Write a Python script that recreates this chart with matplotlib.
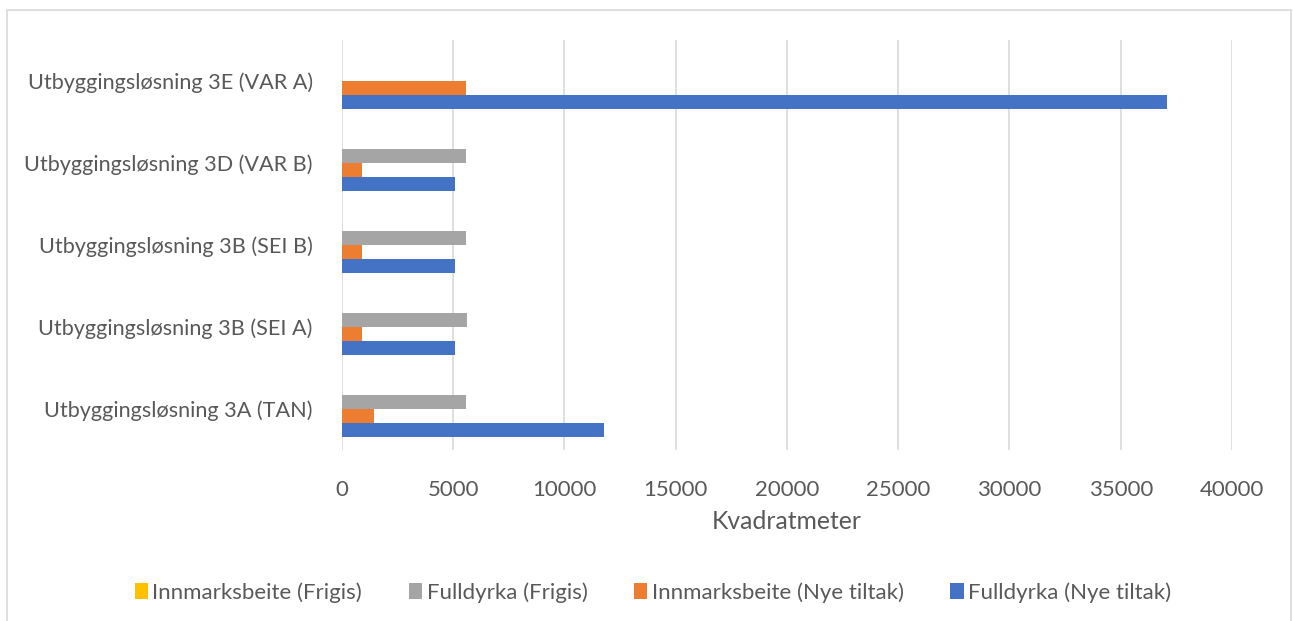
import matplotlib
matplotlib.use("Agg")
import matplotlib.pyplot as plt
import numpy as np
from matplotlib.patches import Rectangle

# data
categories = ["Utbyggingsløsning 3A (TAN)",
              "Utbyggingsløsning 3B (SEI A)",
              "Utbyggingsløsning 3B (SEI B)",
              "Utbyggingsløsning 3D (VAR B)",
              "Utbyggingsløsning 3E (VAR A)"]
fulldyrka_nye = [11790, 5060, 5060, 5060, 37100]
innmark_nye = [1420, 880, 880, 880, 5560]
fulldyrka_frigis = [5570, 5600, 5570, 5570, 0]
innmark_frigis = [0, 0, 0, 0, 0]

series = [
    ("Fulldyrka (Nye tiltak)", fulldyrka_nye, "#4472C4"),
    ("Innmarksbeite (Nye tiltak)", innmark_nye, "#ED7D31"),
    ("Fulldyrka (Frigis)", fulldyrka_frigis, "#A5A5A5"),
    ("Innmarksbeite (Frigis)", innmark_frigis, "#FFC000"),
]

plt.rcParams['font.family'] = ['Lato', 'DejaVu Sans']
text_col = "#595959"
fs = 16

fig = plt.figure(figsize=(12.93, 6.21), dpi=100)
ax = fig.add_axes([0.2645, 0.2757, 0.6883, 0.6605])

y = np.arange(len(categories))
h = 0.17
handles = []
for i, (name, vals, col) in enumerate(series):
    b = ax.barh(y + (i - 1.5) * h, vals, height=h, color=col, label=name)
    handles.append(b)

ax.set_xlim(0, 40000)
ax.set_ylim(-0.5, len(categories) - 0.5)
ax.set_xticks(np.arange(0, 40001, 5000))
ax.set_yticks(y)
ax.set_yticklabels(categories, fontsize=15.6)
ax.grid(axis="x", color="#D9D9D9", linewidth=1.2)
ax.set_axisbelow(True)
for s in ax.spines.values():
    s.set_visible(False)
ax.tick_params(axis="both", length=0, colors=text_col)
ax.tick_params(axis="x", pad=22, labelsize=fs)
ax.tick_params(axis="y", pad=21)
ax.set_xlabel("Kvadratmeter", fontsize=17.8, color=text_col, labelpad=7)

# legend in reverse order, as in the reference
leg = fig.legend(handles[::-1], [s[0] for s in series[::-1]],
                 loc="center", bbox_to_anchor=(0.505, 0.046), ncol=4,
                 frameon=False, fontsize=fs, handlelength=0.6,
                 handleheight=0.7, handletextpad=0.2, columnspacing=2.1)
for t in leg.get_texts():
    t.set_color(text_col)

# chart border
fig.patches.append(Rectangle((7 / 1293, -0.1), 1284 / 1293, 1.1 - 10 / 621,
                             transform=fig.transFigure, fill=False,
                             edgecolor="#D9D9D9", linewidth=1.2))

fig.savefig("out.png", dpi=100)
